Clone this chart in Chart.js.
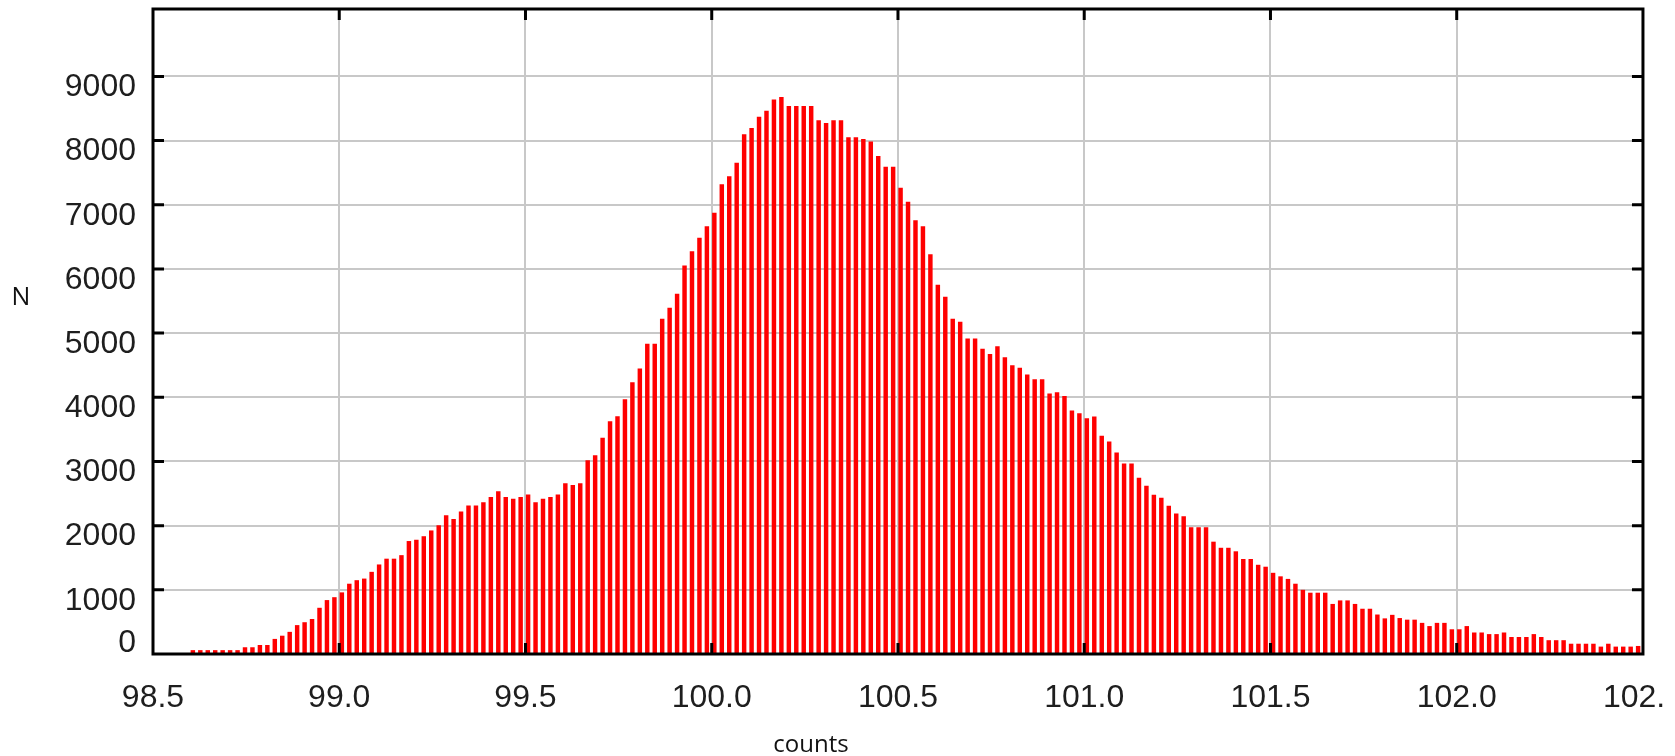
<!DOCTYPE html>
<html>
<head>
<meta charset="utf-8">
<script src="https://cdn.jsdelivr.net/npm/chart.js@4.4.1/dist/chart.umd.min.js"></script>
<style>
  html, body { margin: 0; padding: 0; background: #fff; overflow: hidden; }
  #wrap { width: 1663px; height: 756px; overflow: hidden; }
  #hist { display: block; }
</style>
</head>
<body>
<div id="wrap"><canvas id="hist" width="1708" height="756"></canvas></div>
<script>
// DATA

// histogram bins: first bin edge and bin width
var binStart = 98.6;
var binWidth = 0.02;
// bars sit at the left part of each bin
var barShift = 0.007;

// counts per bin, 98.60 .. 102.48
var counts = [
  55, 55, 55, 55, 55, 55, 55, 100, 100, 135,
  135, 230, 280, 340, 445, 490, 540, 715, 835, 880,
  955, 1090, 1145, 1170, 1275, 1390, 1480, 1480, 1535, 1755,
  1775, 1830, 1920, 2000, 2155, 2100, 2215, 2310, 2310, 2360,
  2440, 2530, 2440, 2415, 2440, 2480, 2360, 2415, 2440, 2480,
  2655, 2630, 2655, 3015, 3090, 3365, 3620, 3700, 3965, 4230,
  4445, 4830, 4830, 5220, 5390, 5610, 6050, 6270, 6480, 6660,
  6870, 7315, 7440, 7650, 8095, 8190, 8365, 8460, 8635, 8675,
  8535, 8535, 8535, 8535, 8310, 8270, 8310, 8310, 8045, 8045,
  8020, 7980, 7755, 7585, 7585, 7260, 7040, 6755, 6660, 6225,
  5750, 5560, 5220, 5170, 4910, 4910, 4750, 4670, 4790, 4620,
  4495, 4455, 4350, 4275, 4275, 4055, 4075, 4015, 3790, 3745,
  3670, 3695, 3395, 3305, 3135, 2965, 2965, 2740, 2615, 2475,
  2430, 2305, 2185, 2140, 1970, 1970, 1970, 1745, 1650, 1650,
  1595, 1475, 1475, 1385, 1355, 1260, 1205, 1165, 1090, 995,
  950, 950, 950, 775, 830, 830, 775, 700, 700, 610,
  550, 605, 555, 530, 530, 480, 430, 480, 480, 380,
  380, 430, 330, 330, 305, 305, 330, 260, 260, 260,
  305, 260, 210, 210, 210, 155, 155, 155, 155, 110,
  155, 110, 110, 110, 120
];

// axis ranges and tick values
var xMin = 98.5, xMax = 102.5, xStep = 0.5;
var yMin = 0, yMax = 10050;
var yTicks = [0, 1000, 2000, 3000, 4000, 5000, 6000, 7000, 8000, 9000];

var points = counts.map(function (c, i) {
  return { x: binStart + i * binWidth + barShift, y: c };
});

var tickFont = '32px "Liberation Sans", Arial, sans-serif';
var tickColor = '#1e1e1e';

// FRAME, INWARD TICKS, Y LABELS AND AXIS TITLES

var framePlugin = {
  id: 'frame',
  afterDraw: function (chart) {
    var ctx = chart.ctx;
    var a = chart.chartArea;
    var xs = chart.scales.x;
    var ys = chart.scales.y;
    var len = 11;

    ctx.save();
    ctx.strokeStyle = '#000';
    ctx.lineWidth = 3;
    ctx.strokeRect(a.left, a.top, a.right - a.left, a.bottom - a.top);

    ctx.beginPath();
    xs.ticks.forEach(function (t) {
      var px = xs.getPixelForValue(t.value);
      if (px <= a.left + 2 || px >= a.right - 2) return;
      ctx.moveTo(px, a.bottom);
      ctx.lineTo(px, a.bottom - len);
      ctx.moveTo(px, a.top);
      ctx.lineTo(px, a.top + len);
    });
    ys.ticks.forEach(function (t) {
      var py = ys.getPixelForValue(t.value);
      if (py >= a.bottom - 2) return;
      ctx.moveTo(a.left, py);
      ctx.lineTo(a.left + len, py);
      ctx.moveTo(a.right, py);
      ctx.lineTo(a.right - len, py);
    });
    ctx.stroke();

    // y tick labels; the 0 label is lifted clear of the x labels
    ctx.font = tickFont;
    ctx.fillStyle = tickColor;
    ctx.textAlign = 'right';
    ctx.textBaseline = 'middle';
    ys.ticks.forEach(function (t) {
      var py = ys.getPixelForValue(t.value);
      var off = t.value === 0 ? -11 : 11;
      ctx.fillText(String(t.value), a.left - 17, py + off);
    });

    // axis titles
    ctx.font = '25px "Open Sans", "Noto Sans", sans-serif';
    ctx.fillStyle = '#111';
    ctx.textAlign = 'center';
    ctx.textBaseline = 'alphabetic';
    ctx.fillText('N', 21, a.top + 296);
    ctx.font = '24px "Open Sans", "Noto Sans", sans-serif';
    ctx.fillText('counts', a.left + 658, 752);
    ctx.restore();
  }
};

// CHART

document.addEventListener('DOMContentLoaded', function () {
  var ctx = document.getElementById('hist').getContext('2d');

  var chart = new Chart(ctx, {
    type: 'bar',
    data: {
      datasets: [{
        label: 'N',
        data: points,
        backgroundColor: '#ff0000',
        borderWidth: 0,
        barThickness: 3.8
      }]
    },
    options: {
      responsive: false,
      animation: false,
      devicePixelRatio: 1,
      layout: { padding: { left: 0, right: 20, top: 9, bottom: 0 } },
      plugins: {
        legend: { display: false },
        tooltip: { enabled: false }
      },
      scales: {
        x: {
          type: 'linear',
          offset: false,
          min: xMin,
          max: xMax,
          border: { display: false },
          grid: { offset: false, color: '#c8c8c8', lineWidth: 2, drawTicks: false },
          ticks: {
            stepSize: xStep,
            maxRotation: 0,
            autoSkip: false,
            padding: 25,
            color: tickColor,
            font: { family: '"Liberation Sans", Arial, sans-serif', size: 32 },
            callback: function (v) { return Number(v).toFixed(1); }
          },
          afterFit: function (scale) { scale.height = 102; }
        },
        y: {
          min: yMin,
          max: yMax,
          border: { display: false },
          grid: { color: '#c8c8c8', lineWidth: 2, drawTicks: false },
          ticks: { display: false },
          afterBuildTicks: function (scale) {
            scale.ticks = yTicks.map(function (v) { return { value: v }; });
          },
          afterFit: function (scale) { scale.width = 153; }
        }
      }
    },
    plugins: [framePlugin]
  });
});
</script>
</body>
</html>
